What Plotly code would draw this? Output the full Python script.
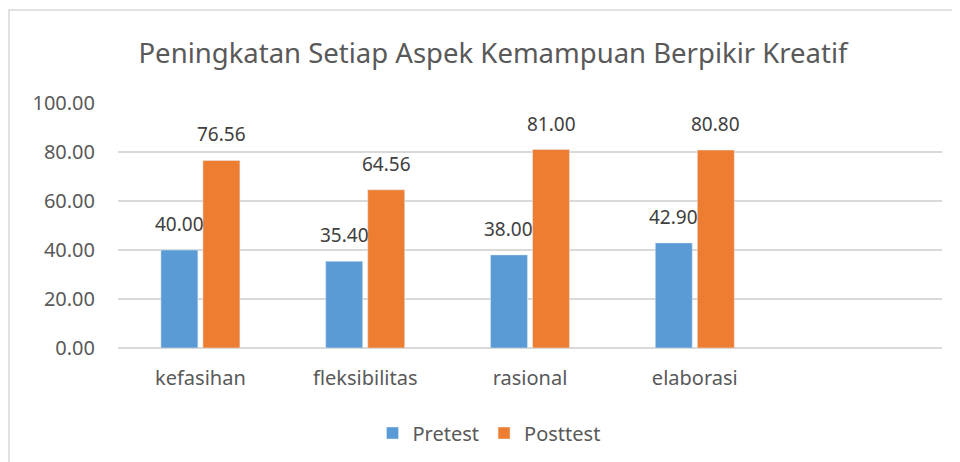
import plotly.graph_objects as go

categories = ["kefasihan", "fleksibilitas", "rasional", "elaborasi"]
pretest = [40.00, 35.40, 38.00, 42.90]
posttest = [76.56, 64.56, 81.00, 80.80]
yticks = [0, 20, 40, 60, 80, 100]

# page body has an 8px offset; work in page pixels and convert
OFF = 8
W, H = 960 - OFF, 462 - OFF
L, T = 118 - OFF, 103 - OFF
R = W - (942 - OFF)
B = H - (348 - OFF)
pw, ph = W - L - R, H - T - B

def px_x(p):
    return (p - OFF - L) / pw

def px_y(p):
    return (H - B - (p - OFF)) / ph

BARGAP, GROUPGAP = 0.49, 0.12
cat_w = pw / 5
slot = cat_w * (1 - BARGAP) / 2

font = "Noto Sans"
fig = go.Figure()
series = [("Pretest", pretest, "#5B9BD5", -slot / 2), ("Posttest", posttest, "#ED7D31", slot / 2)]
for name, vals, col, _ in series:
    fig.add_bar(x=categories, y=vals, name=name, marker_color=col)

for name, vals, col, shift in series:
    for c, v in zip(categories, vals):
        fig.add_annotation(x=c, y=v, text=f"{v:.2f}", showarrow=False,
                           xshift=shift, yshift=11, yanchor="bottom",
                           font=dict(size=19, color="#404040", family=font))

fig.add_shape(type="rect", xref="paper", yref="paper",
              x0=px_x(9), x1=px_x(975), y0=px_y(10), y1=px_y(480),
              line=dict(color="#D9D9D9", width=1.5), layer="below")

fig.update_layout(
    width=W, height=H,
    margin=dict(l=L, r=R, t=T, b=B, autoexpand=False),
    paper_bgcolor="white", plot_bgcolor="white",
    font=dict(family=font, color="#595959"),
    title=dict(text="Peningkatan Setiap Aspek Kemampuan Berpikir Kreatif",
               x=px_x(493), xref="paper", xanchor="center",
               y=1 - (53 - OFF) / H, yanchor="middle",
               font=dict(size=27.5, color="#595959", family=font)),
    bargap=BARGAP, bargroupgap=GROUPGAP,
    showlegend=True,
    legend=dict(orientation="h", x=px_x(489), xanchor="center", y=px_y(433), yanchor="middle",
                font=dict(size=20, color="#595959"), itemwidth=30, traceorder="normal"),
)
fig.update_xaxes(range=[-0.5, 4.5], showgrid=False, showline=False, ticks="",
                 tickfont=dict(size=20, color="#595959"), ticklabelstandoff=16)
fig.update_yaxes(range=[0, 100], tickvals=yticks, tickformat=".2f",
                 showgrid=True, gridcolor="#D9D9D9", gridwidth=1.5,
                 zeroline=True, zerolinecolor="#D9D9D9", zerolinewidth=2,
                 showline=False, ticks="",
                 tickfont=dict(size=20, color="#595959"), ticklabelstandoff=22)

fig.write_html("out.html")
